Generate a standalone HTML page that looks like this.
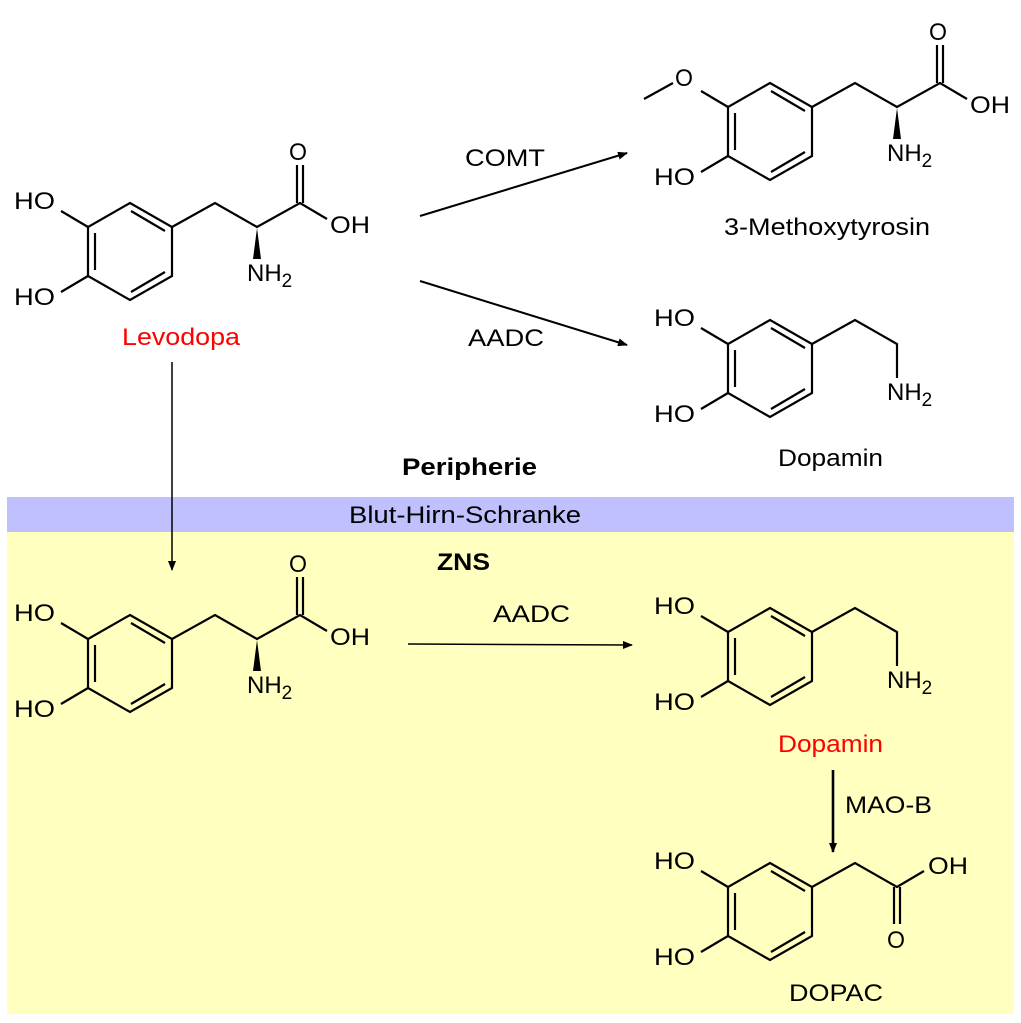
<!DOCTYPE html>
<html><head><meta charset="utf-8"><style>
html,body{margin:0;padding:0;background:#fff}
svg{display:block}
text{font-family:"Liberation Sans",sans-serif;font-size:24px;fill:#000}
</style></head><body>
<svg width="1021" height="1023" viewBox="0 0 1021 1023" xmlns="http://www.w3.org/2000/svg">
<defs>
<marker id="ah" markerWidth="10" markerHeight="8" refX="9" refY="4" orient="auto" markerUnits="userSpaceOnUse">
<path d="M0,0 L10,4 L0,8 Z" fill="#000"/></marker>
<g id="ring" stroke="#000" stroke-width="2.2" fill="none">
<path d="M130,203 L172,227 L172,276 L130,300 L88,276 L88,227 Z"/>
<line x1="95" y1="233" x2="95" y2="270"/>
<line x1="131" y1="211" x2="165" y2="231"/>
<line x1="165" y1="272" x2="131" y2="292"/>
<line x1="88" y1="276" x2="61" y2="292"/>
</g>
<g id="ldopa">
<use href="#ring"/>
<g stroke="#000" stroke-width="2.2" fill="none">
<line x1="88" y1="227" x2="61" y2="211"/>
<polyline points="172,227 215,203 257,227 300,203 327,219"/>
<line x1="297" y1="203" x2="297" y2="165"/>
<line x1="303" y1="203" x2="303" y2="165"/>
</g>
<polygon points="257,228 253,259 261,259" fill="#000"/>
<text x="14" y="209" textLength="41" lengthAdjust="spacingAndGlyphs">HO</text>
<text x="14" y="305" textLength="41" lengthAdjust="spacingAndGlyphs">HO</text>
<text x="289" y="160" textLength="18" lengthAdjust="spacingAndGlyphs">O</text>
<text x="330" y="233" textLength="40" lengthAdjust="spacingAndGlyphs">OH</text>
<text x="247" y="281" font-size="25">NH<tspan font-size="19" dy="6">2</tspan></text>
</g>
<g id="dop">
<use href="#ring"/>
<g stroke="#000" stroke-width="2.2" fill="none">
<line x1="88" y1="227" x2="61" y2="211"/>
<polyline points="172,227 215,203 257,227 257,261"/>
</g>
<text x="14" y="209" textLength="41" lengthAdjust="spacingAndGlyphs">HO</text>
<text x="14" y="305" textLength="41" lengthAdjust="spacingAndGlyphs">HO</text>
<text x="247" y="283" font-size="25">NH<tspan font-size="19" dy="6">2</tspan></text>
</g>
</defs>

<rect x="7" y="497" width="1007" height="35" fill="#c0c0ff"/>
<rect x="7" y="532" width="1007" height="482" fill="#ffffc0"/>

<use href="#ldopa"/>
<text x="122" y="345" textLength="118" lengthAdjust="spacingAndGlyphs" style="fill:#ff0000">Levodopa</text>

<g transform="translate(640,-120)">
<use href="#ring"/>
<g stroke="#000" stroke-width="2.2" fill="none">
<line x1="88" y1="227" x2="61" y2="211"/>
<line x1="33" y1="203" x2="4" y2="219"/>
<polyline points="172,227 215,203 257,227 300,203 327,219"/>
<line x1="297" y1="203" x2="297" y2="165"/>
<line x1="303" y1="203" x2="303" y2="165"/>
</g>
<polygon points="257,228 253,259 261,259" fill="#000"/>
<text x="35" y="206" textLength="18" lengthAdjust="spacingAndGlyphs">O</text>
<text x="14" y="305" textLength="41" lengthAdjust="spacingAndGlyphs">HO</text>
<text x="289" y="160" textLength="18" lengthAdjust="spacingAndGlyphs">O</text>
<text x="330" y="233" textLength="40" lengthAdjust="spacingAndGlyphs">OH</text>
<text x="247" y="281" font-size="25">NH<tspan font-size="19" dy="6">2</tspan></text>
</g>
<text x="724" y="235" textLength="206" lengthAdjust="spacingAndGlyphs">3-Methoxytyrosin</text>

<g transform="translate(640,117)"><use href="#dop"/></g>
<text x="778" y="466" textLength="105" lengthAdjust="spacingAndGlyphs">Dopamin</text>

<g stroke="#000" stroke-width="2" fill="none">
<line x1="420" y1="216" x2="627" y2="153" marker-end="url(#ah)"/>
<line x1="420" y1="281" x2="627" y2="345" marker-end="url(#ah)"/>
<line x1="172" y1="362" x2="172" y2="570" stroke-width="1.5" marker-end="url(#ah)"/>
<line x1="408" y1="644" x2="632" y2="645" stroke-width="1.5" marker-end="url(#ah)"/>
<line x1="833" y1="770" x2="833" y2="852" stroke-width="2.6" marker-end="url(#ah)"/>
</g>
<text x="465" y="166" textLength="80" lengthAdjust="spacingAndGlyphs">COMT</text>
<text x="468" y="346" textLength="76" lengthAdjust="spacingAndGlyphs">AADC</text>
<text x="402" y="475" textLength="135" lengthAdjust="spacingAndGlyphs" font-weight="bold">Peripherie</text>
<text x="349" y="523" textLength="232" lengthAdjust="spacingAndGlyphs">Blut-Hirn-Schranke</text>
<text x="437" y="570" textLength="53" lengthAdjust="spacingAndGlyphs" font-weight="bold">ZNS</text>
<text x="493" y="622" textLength="77" lengthAdjust="spacingAndGlyphs">AADC</text>
<text x="845" y="813" textLength="87" lengthAdjust="spacingAndGlyphs">MAO-B</text>

<g transform="translate(0,412)"><use href="#ldopa"/></g>

<g transform="translate(640,405)"><use href="#dop"/></g>
<text x="778" y="752" textLength="105" lengthAdjust="spacingAndGlyphs" style="fill:#ff0000">Dopamin</text>

<g transform="translate(640,660)">
<use href="#ring"/>
<g stroke="#000" stroke-width="2.2" fill="none">
<line x1="88" y1="227" x2="61" y2="211"/>
<polyline points="172,227 215,203 257,227 284,211"/>
<line x1="254" y1="227" x2="254" y2="264"/>
<line x1="260" y1="227" x2="260" y2="264"/>
</g>
<text x="14" y="209" textLength="41" lengthAdjust="spacingAndGlyphs">HO</text>
<text x="14" y="305" textLength="41" lengthAdjust="spacingAndGlyphs">HO</text>
<text x="288" y="214" textLength="40" lengthAdjust="spacingAndGlyphs">OH</text>
<text x="247" y="288" textLength="18" lengthAdjust="spacingAndGlyphs">O</text>
</g>
<text x="789" y="1001" textLength="94" lengthAdjust="spacingAndGlyphs">DOPAC</text>
</svg>
</body></html>
